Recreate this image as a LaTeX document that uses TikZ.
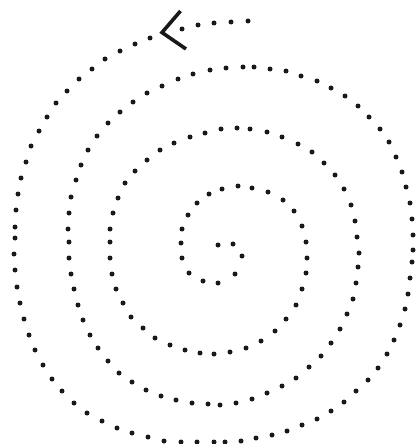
\documentclass[tikz,border=0pt]{standalone}
\begin{document}
\begin{tikzpicture}[x=1pt,y=-1pt,
  spiraldot/.style={fill=black!90},
  chevron/.style={draw=black!90,line width=3.6pt,line join=miter}]
\useasboundingbox (0,0) rectangle (416,444);
\foreach \px/\py in {
218/245,233/244,242/256,235/274,218/283,203/281,189/273,182/258,181/243,182/229,
188/215,197/203,209/194,222/189,238/186,252/188,268/192,283/200,294/211,302/226,
306/242,307/258,306/273,302/289,296/305,286/319,275/331,261/341,246/348,230/352,
214/354,200/353,185/350,170/345,155/338,143/328,131/317,123/303,116/289,112/274,
110/258,110/242,110/229,113/213,118/198,125/183,135/171,147/160,160/150,174/143,
190/137,205/133,221/129,237/128,250/129,267/132,282/137,298/144,312/152,324/163,
335/175,344/189,351/205,355/221,357/237,359/253,358/267,356/283,353/299,347/314,
340/329,331/343,321/356,309/367,296/378,282/386,267/393,252/399,236/403,220/405,
208/404,192/403,176/400,161/396,146/390,132/382,119/373,108/361,98/348,90/335,
83/320,78/305,74/289,71/274,69/258,69/242,68/229,69/213,71/197,76/180,
81/165,88/150,97/136,108/123,120/112,133/102,147/93,162/86,178/79,193/74,
210/70,226/68,243/67,254/67,270/69,286/71,301/76,317/81,331/88,345/96,
358/106,369/117,380/129,389/142,396/157,402/172,406/187,410/203,412/219,413/235,
413/250,412/262,410/278,408/294,405/309,400/325,394/340,387/354,378/368,368/380,
356/391,344/402,331/411,317/419,302/425,287/431,272/435,256/438,241/441,225/442,
214/442,197/442,181/442,164/441,148/437,132/433,117/428,102/421,87/413,74/403,
62/391,52/379,43/365,35/350,29/335,24/319,20/303,17/287,15/270,14/254,
15/238,15/227,16/210,18/194,21/178,26/162,31/146,39/131,47/117,56/103,
67/91,79/79,92/69,105/59,120/51,135/44,150/38,
182/29,198/25,214/23,231/22,248/21}
  \fill[spiraldot] (\px,\py) circle[radius=2.5];
\coordinate (tipA) at (180.5,11);
\coordinate (tip) at (162,32.5);
\coordinate (tipB) at (186,49);
\draw[chevron] (tipA) -- (tip) -- (tipB);
\end{tikzpicture}
\end{document}
